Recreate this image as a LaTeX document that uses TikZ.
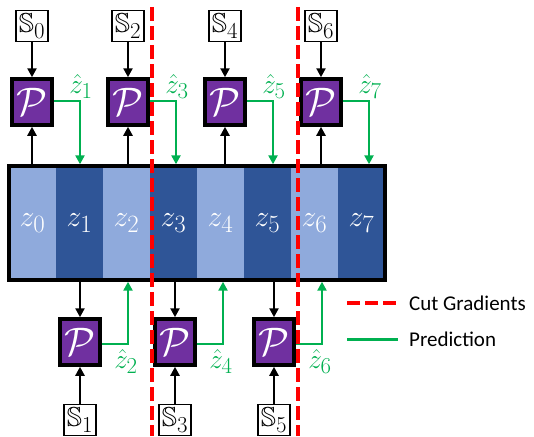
\RequirePackage{fix-cm}
\documentclass[tikz,border=0pt]{standalone}
\usepackage{amssymb}
\usepackage{fontspec}
\setsansfont{Carlito}
\usetikzlibrary{arrows.meta,positioning,calc,fit}
\definecolor{celllight}{HTML}{8FAADC}
\definecolor{celldark}{HTML}{2F5597}
\definecolor{predpurple}{HTML}{7030A0}
\definecolor{predgreen}{HTML}{00B050}
\definecolor{cutred}{HTML}{FF0000}
\newcommand{\predsym}{\scalebox{1.6}{$\mathcal{P}$}}
\newcommand{\bigmath}[2]{\scalebox{#1}{$#2$}}
\begin{document}
\begin{tikzpicture}[x=1pt, y=-1pt,
  cell/.style={minimum width=47pt, minimum height=113pt, inner sep=0pt, text=white, font=\fontsize{24.88}{28}\selectfont},
  pbox/.style={draw=black, fill=predpurple, line width=3.5pt, minimum width=40pt, minimum height=46pt, inner sep=0pt, text=white, font=\fontsize{24.88}{28}\selectfont},
  sbox/.style={draw=black, fill=white, line width=1.2pt, minimum width=32pt, minimum height=31pt, inner sep=0pt, font=\fontsize{24.88}{28}\selectfont},
  feed/.style={line width=2.5pt, -{Triangle[length=9pt,width=9pt]}},
  pred/.style={predgreen, line width=2.5pt, -{Triangle[length=9pt,width=9pt]}},
  cut/.style={cutred, line width=4pt, dash pattern=on 14pt off 5pt},
  zhat/.style={text=predgreen, font=\fontsize{24.88}{28}\selectfont, inner sep=1pt},
  legend/.style={anchor=west, font=\sffamily\fontsize{21}{24}\selectfont, inner sep=0pt}]
  \useasboundingbox (0,0) rectangle (534,436);
  \foreach \i/\c in {0/celllight,1/celldark,2/celllight,3/celldark,4/celllight,5/celldark,6/celllight,7/celldark}{
    \node[cell, fill=\c] (z\i) at (32.5+47*\i,223) {\bigmath{1.2}{z_{\i}}};
  }
  \node[fit=(z0)(z7), inner sep=0pt, draw, line width=4pt] (bar) {};
  \foreach \k/\x in {0/32,2/128,4/225,6/321}{
    \pgfmathtruncatemacro\nxt{\k+1}
    \node[sbox] (s\k) at (\x,26) {\bigmath{1.1}{\mathbb{S}_{\k}}};
    \node[pbox] (p\k) at (\x,102) {\predsym};
    \coordinate (t\k) at (\x+48,101);
    \draw[feed] (s\k) -- (p\k);
    \draw[feed] (p\k |- bar.north) -- (p\k);
    \draw[pred] (p\k.east |- t\k) -| (t\k |- bar.north) node[zhat, pos=0.5, above, xshift=1pt] {\bigmath{1.1}{\hat{z}_{\nxt}}};
  }
  \foreach \k/\x in {1/80,3/175,5/274}{
    \pgfmathtruncatemacro\nxt{\k+1}
    \node[sbox] (s\k) at (\x,420) {\bigmath{1.1}{\mathbb{S}_{\k}}};
    \node[pbox] (p\k) at (\x,342) {\predsym};
    \coordinate (t\k) at (\x+48,344);
    \draw[feed] (s\k) -- (p\k);
    \draw[feed] (p\k |- bar.south) -- (p\k);
    \draw[pred] (p\k.east |- t\k) -| (t\k |- bar.south) node[zhat, pos=0.5, below, xshift=-2pt, yshift=-3pt] {\bigmath{1.1}{\hat{z}_{\nxt}}};
  }
  \coordinate (cuta) at (152,7);
  \coordinate (cutb) at (152,436);
  \coordinate (cutc) at (298,7);
  \coordinate (cutd) at (298,436);
  \draw[cut] (cuta) -- (cutb);
  \draw[cut] (cutc) -- (cutd);
  \node[legend] (lgcut) at (409,303) {Cut Gradients};
  \node[legend] (lgpred) at (409,339) {Prediction};
  \coordinate (lgcuts) at (347,303);
  \coordinate (lgpreds) at (347,339);
  \draw[cut, dash pattern=on 13pt off 5pt] (lgcuts) -- ([xshift=-11pt]lgcut.west);
  \draw[predgreen, line width=3pt] (lgpreds) -- ([xshift=-11pt]lgpred.west);
\end{tikzpicture}
\end{document}
